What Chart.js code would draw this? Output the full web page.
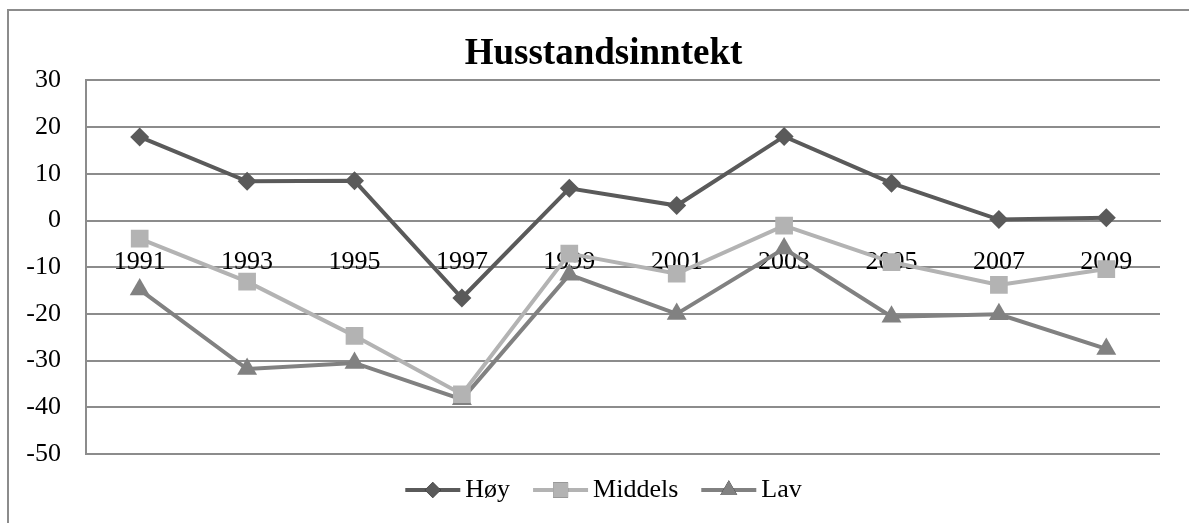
<!DOCTYPE html>
<html>
<head>
<meta charset="utf-8">
<script src="https://cdn.jsdelivr.net/npm/chart.js@4"></script>
<style>
  html, body { margin: 0; padding: 0; background: #fff; }
  #wrap { position: relative; width: 1189px; height: 523px; }
  #frame { position: absolute; left: 7px; top: 9px; right: 0; bottom: 0;
           border-left: 2px solid #8c8c8c; border-top: 2px solid #8c8c8c; }
  canvas { position: absolute; left: 0; top: 0; }
</style>
</head>
<body>
<div id="wrap">
  <div id="frame"></div>
  <canvas id="chart" width="1189" height="523"></canvas>
</div>
<script>
// ==== Data ====
const years = ["1991", "1993", "1995", "1997", "1999", "2001", "2003", "2005", "2007", "2009"];
const hoy = [17.9, 8.4, 8.5, -16.6, 6.9, 3.2, 18.0, 8.0, 0.2, 0.6];
const middels = [-3.9, -13.1, -24.7, -37.2, -7.1, -11.4, -1.1, -8.9, -13.8, -10.4];
const lav = [-14.8, -31.8, -30.5, -38.3, -11.6, -20.0, -6.0, -20.6, -20.1, -27.5];
const yTicks = [30, 20, 10, 0, -10, -20, -30, -40, -50];

const serif = "'Liberation Serif', 'DejaVu Serif', serif";
const gridGrey = "#8c8c8c";
const legendLine = 55;

function series(label, data, color, style, radius) {
  return {
    label: label,
    data: data,
    borderColor: color,
    backgroundColor: color,
    borderWidth: 4,
    pointStyle: style,
    pointRadius: radius,
    pointBorderWidth: 0,
    pointBackgroundColor: color,
    tension: 0
  };
}

// Excel style legend: a line with the marker on it
const legendMarkers = {
  id: "legendMarkers",
  afterDraw(chart) {
    const legend = chart.legend;
    if (!legend || !legend.legendHitBoxes) return;
    const ctx = chart.ctx;
    legend.legendHitBoxes.forEach((box, i) => {
      const ds = chart.data.datasets[i];
      const y = box.top + box.height / 2;
      const x = box.left + legendLine / 2;
      ctx.save();
      ctx.strokeStyle = ds.borderColor;
      ctx.lineWidth = ds.borderWidth;
      ctx.beginPath();
      ctx.moveTo(box.left, y);
      ctx.lineTo(box.left + legendLine, y);
      ctx.stroke();
      Chart.helpers.drawPoint(ctx, {
        pointStyle: ds.pointStyle,
        radius: ds.pointRadius * 0.85,
        borderWidth: 0
      }, x, y);
      ctx.fillStyle = ds.pointBackgroundColor;
      ctx.fill();
      ctx.restore();
    });
  }
};

const ctx = document.getElementById("chart").getContext("2d");
new Chart(ctx, {
  type: "line",
  data: {
    labels: years,
    datasets: [
      series("Høy", hoy, "#5a5a5a", "rectRot", 9.5),
      series("Middels", middels, "#b3b3b3", "rect", 12.5),
      series("Lav", lav, "#818181", "triangle", 11.5)
    ]
  },
  plugins: [legendMarkers],
  options: {
    responsive: false,
    animation: false,
    layout: { padding: { left: 18, right: 0, top: 0, bottom: 10 } },
    plugins: {
      title: {
        display: true,
        text: "Husstandsinntekt",
        color: "#000",
        font: { family: serif, size: 37, weight: "bold", lineHeight: 1.2 },
        padding: { top: 32, bottom: 4 }
      },
      legend: {
        position: "bottom",
        labels: {
          color: "#000",
          font: { family: serif, size: 26 },
          boxWidth: 47,
          boxHeight: 4,
          padding: 23,
          generateLabels(chart) {
            return chart.data.datasets.map((ds, i) => ({
              text: ds.label,
              fillStyle: "rgba(0,0,0,0)",
              strokeStyle: "rgba(0,0,0,0)",
              lineWidth: 0,
              datasetIndex: i
            }));
          }
        }
      },
      tooltip: { enabled: false }
    },
    scales: {
      x: {
        position: { y: 0 },
        offset: true,
        grid: { display: false, drawTicks: false },
        border: { color: gridGrey, width: 2 },
        ticks: {
          color: "#000",
          font: { family: serif, size: 26 },
          padding: 26,
          maxRotation: 0,
          autoSkip: false
        }
      },
      y: {
        min: -50,
        max: 30,
        afterBuildTicks(scale) {
          scale.ticks = yTicks.map(v => ({ value: v }));
        },
        afterFit(scale) { scale.width = 68; },
        grid: { color: gridGrey, lineWidth: 2, drawTicks: false },
        border: { color: gridGrey, width: 2 },
        ticks: {
          color: "#000",
          font: { family: serif, size: 26 },
          padding: 25
        }
      },
      // empty right margin so the title and legend stay centred like the original
      spacer: {
        position: "right",
        afterFit(scale) { scale.width = 29; },
        grid: { display: false, drawTicks: false },
        border: { display: false },
        ticks: { display: false }
      }
    }
  }
});
</script>
</body>
</html>
